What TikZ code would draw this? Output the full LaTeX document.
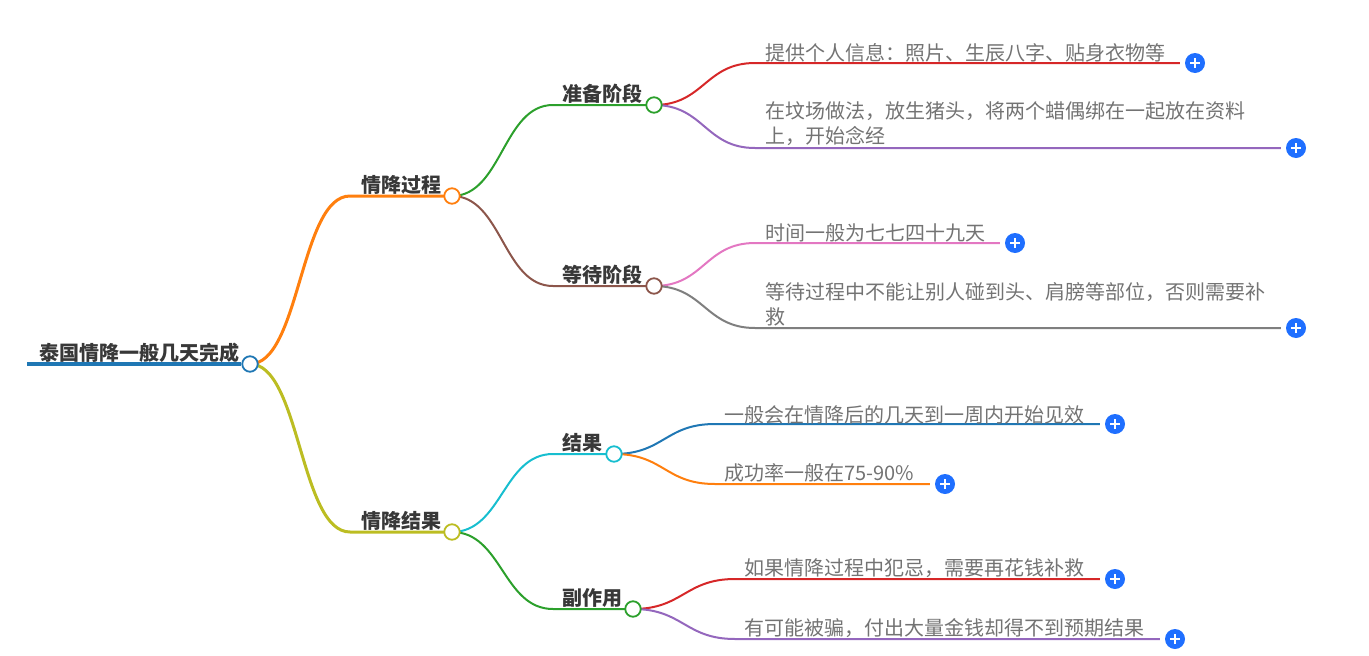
\documentclass[tikz,border=0pt]{standalone}
\usepackage{fontspec}
\usetikzlibrary{backgrounds}
\setmainfont{Noto Sans CJK SC}
\definecolor{rootblue}{HTML}{1F77B4}
\definecolor{mmorange}{HTML}{FF7F0E}
\definecolor{mmolive}{HTML}{BCBD22}
\definecolor{mmgreen}{HTML}{2CA02C}
\definecolor{mmbrown}{HTML}{8C564B}
\definecolor{mmred}{HTML}{D62728}
\definecolor{mmpurple}{HTML}{9467BD}
\definecolor{mmpink}{HTML}{E377C2}
\definecolor{mmgray}{HTML}{7F7F7F}
\definecolor{mmcyan}{HTML}{17BECF}
\definecolor{plusblue}{HTML}{1F6FFF}
\tikzset{
  joint/.style={circle,draw=#1,fill=white,line width=1.8pt,minimum size=15.5pt,inner sep=0pt},
  plusdot/.style={circle,fill=plusblue,minimum size=20pt,inner sep=0pt,
    path picture={\draw[white,line width=1.6pt] (path picture bounding box.center) +(-5pt,0) -- +(5pt,0) +(0,-5pt) -- +(0,5pt);}},
  head/.style={anchor=south west,inner sep=0pt,font=\bfseries\fontsize{20pt}{25pt}\selectfont,text=black!78},
  leaf/.style={anchor=south west,inner sep=0pt,align=left,font=\fontsize{20pt}{25pt}\selectfont,text=black!55},
  branch/.style={line width=2pt}
}
\begin{document}
\begin{tikzpicture}[x=1pt,y=-1pt]
\useasboundingbox (0,0) rectangle (1369,656);
% joints
\coordinate (rootstart) at (27,364);
\node[joint=rootblue] (root) at (250,364) {};
\node[joint=mmorange] (proc) at (452,196) {};
\node[joint=mmolive] (res) at (452,532) {};
\node[joint=mmgreen] (prep) at (654,105) {};
\node[joint=mmbrown] (wait) at (654,286) {};
\node[joint=mmcyan] (outcome) at (614,454) {};
\node[joint=mmgreen] (side) at (633,609) {};
% plus buttons
\node[plusdot] (p1) at (1195,63) {};
\node[plusdot] (p2) at (1296,148) {};
\node[plusdot] (p3) at (1015,243) {};
\node[plusdot] (p4) at (1296,328) {};
\node[plusdot] (p5) at (1115,424) {};
\node[plusdot] (p6) at (945,484) {};
\node[plusdot] (p7) at (1115,579) {};
\node[plusdot] (p8) at (1175,639) {};
% bends
\coordinate (bproc) at (350,196);
\coordinate (bres) at (350,532);
\coordinate (bprep) at (553,105);
\coordinate (bwait) at (553,286);
\coordinate (boutcome) at (553,454);
\coordinate (bside) at (553,609);
\coordinate (b1) at (755,63);
\coordinate (b2) at (755,148);
\coordinate (b3) at (755,243);
\coordinate (b4) at (755,328);
\coordinate (b5) at (715,424);
\coordinate (b6) at (715,484);
\coordinate (b7) at (735,579);
\coordinate (b8) at (735,639);
% connectors
\begin{scope}[on background layer]
\draw[line width=4.5pt,rootblue] (rootstart) -- (root);
\foreach \a/\b/\c/\col in {root/bproc/proc/mmorange,root/bres/res/mmolive}
\draw[line width=3pt,\col] (\a.center) .. controls +(50,0) and +(-50,0) .. (\b) -- (\c.center);
\foreach \a/\b/\c/\col in {proc/bprep/prep/mmgreen,proc/bwait/wait/mmbrown,res/boutcome/outcome/mmcyan,res/bside/side/mmgreen}
\draw[branch,\col] (\a.center) .. controls +(50,0) and +(-50,0) .. (\b) -- (\c.center);
\foreach \a/\b/\c/\col in {prep/b1/p1/mmred,prep/b2/p2/mmpurple,wait/b3/p3/mmpink,wait/b4/p4/mmgray,outcome/b5/p5/rootblue,outcome/b6/p6/mmorange,side/b7/p7/mmred,side/b8/p8/mmpurple}
\draw[branch,\col] (\a.center) .. controls +(50,0) and +(-50,0) .. (\b) -- ([xshift=-5pt]\c.west);
\end{scope}
% labels
\node[head] (troot) at (39,363) {泰国情降一般几天完成};
\node[head] (tproc) at (361,195) {情降过程};
\node[head] (tres) at (361,531) {情降结果};
\node[head] (tprep) at (562,104) {准备阶段};
\node[head] (twait) at (562,285) {等待阶段};
\node[head] (toutcome) at (562,453) {结果};
\node[head] (tside) at (562,608) {副作用};
\node[leaf] (l1) at (765,62) {提供个人信息：照片、生辰八字、贴身衣物等};
\node[leaf] (l2) at (765,146) {在坟场做法，放生猪头，将两个蜡偶绑在一起放在资料\\上，开始念经};
\node[leaf] (l3) at (765,242) {时间一般为七七四十九天};
\node[leaf] (l4) at (765,326.5) {等待过程中不能让别人碰到头、肩膀等部位，否则需要补\\救};
\node[leaf] (l5) at (724,424) {一般会在情降后的几天到一周内开始见效};
\node[leaf] (l6) at (724,482.5) {成功率一般在75-90\%};
\node[leaf] (l7) at (744,578) {如果情降过程中犯忌，需要再花钱补救};
\node[leaf] (l8) at (744,638) {有可能被骗，付出大量金钱却得不到预期结果};
\end{tikzpicture}
\end{document}
